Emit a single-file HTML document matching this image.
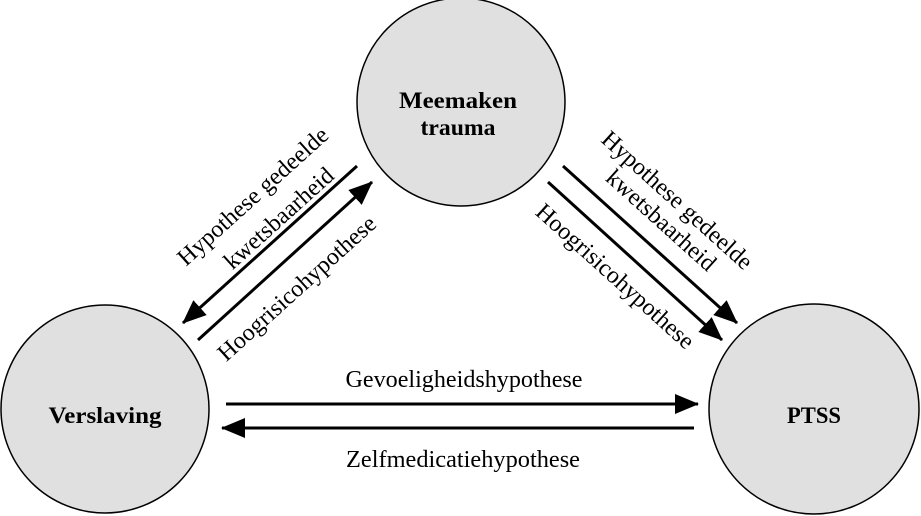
<!DOCTYPE html>
<html><head><style>body{margin:0;background:#fff}svg{display:block}</style></head><body>
<svg width="921" height="516" viewBox="0 0 921 516" xmlns="http://www.w3.org/2000/svg" font-family="Liberation Serif, serif" font-size="24" fill="#000">
<defs>
<marker id="b" markerWidth="24" markerHeight="20" refX="23" refY="10" orient="auto" markerUnits="userSpaceOnUse"><path d="M0,0 L24,10 L0,20z"/></marker></defs>
<g fill="#e0e0e0" stroke="#000" stroke-width="1.5">
<circle cx="461" cy="102" r="104"/>
<circle cx="105" cy="409" r="104"/>
<circle cx="814" cy="409" r="105"/>
</g>
<g font-weight="bold" text-anchor="middle" font-size="23">
<text x="458" y="108" textLength="118" lengthAdjust="spacingAndGlyphs">Meemaken</text>
<text x="458" y="135" textLength="75" lengthAdjust="spacingAndGlyphs">trauma</text>
<text x="105" y="423" textLength="113" lengthAdjust="spacingAndGlyphs">Verslaving</text>
<text x="814" y="423" textLength="54" lengthAdjust="spacingAndGlyphs">PTSS</text>
</g>
<g stroke="#000" stroke-width="3">
<line x1="357" y1="166" x2="183" y2="323" marker-end="url(#b)"/>
<line x1="198" y1="340" x2="372" y2="182" marker-end="url(#b)"/>
<line x1="563" y1="166" x2="737" y2="323" marker-end="url(#b)"/>
<line x1="548" y1="182" x2="722" y2="340" marker-end="url(#b)"/>
<line x1="226" y1="404" x2="698" y2="404" marker-end="url(#b)"/>
<line x1="694" y1="428" x2="222" y2="428" marker-end="url(#b)"/>
</g>
<g text-anchor="middle">
<text transform="translate(258,202) rotate(-42)">Hypothese gedeelde</text>
<text transform="translate(284,224) rotate(-42)">kwetsbaarheid</text>
<text transform="translate(302,294) rotate(-42)">Hoogrisicohypothese</text>
<text transform="translate(672,206) rotate(42)">Hypothese gedeelde</text>
<text transform="translate(656,226) rotate(42)">kwetsbaarheid</text>
<text transform="translate(610,282) rotate(42)">Hoogrisicohypothese</text>
<text x="464" y="387" textLength="237" lengthAdjust="spacingAndGlyphs">Gevoeligheidshypothese</text>
<text x="463" y="467" textLength="234" lengthAdjust="spacingAndGlyphs">Zelfmedicatiehypothese</text>
</g>
</svg>
</body></html>
